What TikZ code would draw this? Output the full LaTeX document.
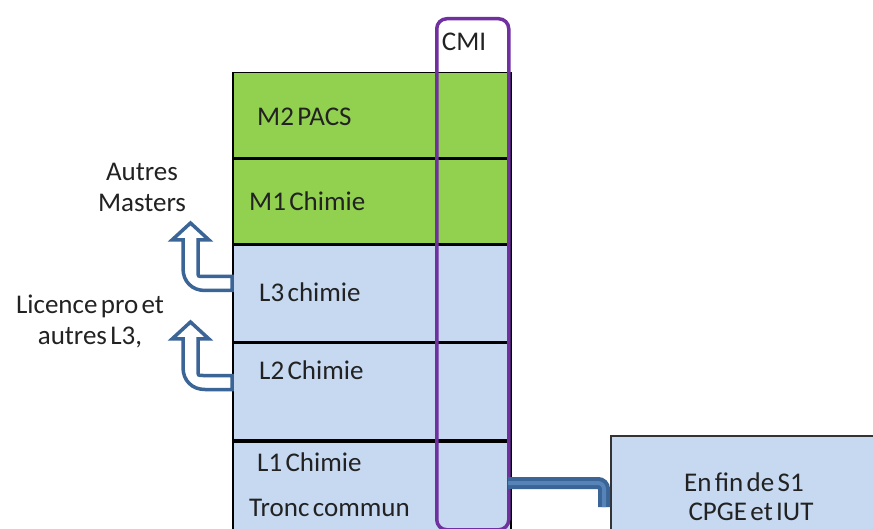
\documentclass[tikz,border=0pt]{standalone}
\usepackage{fontspec}
\setmainfont{Carlito}[WordSpace=0.55]

\definecolor{pacsgreen}{HTML}{92D050}
\definecolor{rowblue}{HTML}{C6D9F1}
\definecolor{cmipurple}{HTML}{7030A0}
\definecolor{arrowblue}{HTML}{3B6596}
\definecolor{linkblue}{HTML}{5683B8}
\definecolor{inktext}{HTML}{222222}

\tikzset{
  row/.style={draw=black, line width=1.5pt, anchor=north west, minimum width=278pt, inner sep=0pt},
  lbl/.style={anchor=west, inner sep=0pt, text=inktext, font=\fontsize{27}{30}\selectfont},
  side/.style={align=center, inner sep=0pt, text=inktext, font=\fontsize{27}{31}\selectfont},
  uturn/.style={draw=arrowblue, line width=3.5pt, fill=white, line join=miter},
  link/.style={draw=arrowblue, double=linkblue, double distance=4pt, line width=4pt, rounded corners=6pt},
}

\begin{document}
\begin{tikzpicture}[x=1pt,y=-1pt]
  \clip (0,0) rectangle (873,529);
  \fill[white] (0,0) rectangle (873,529);

  % rows of the stack
  \node[row, fill=pacsgreen, minimum height=85pt] (m2) at (232,72) {};
  \node[row, fill=pacsgreen, minimum height=85pt] (m1) at (m2.south west) {};
  \node[row, fill=rowblue, minimum height=96pt] (l3) at (m1.south west) {};
  \node[row, fill=rowblue, minimum height=97pt] (l2) at (l3.south west) {};
  \node[row, fill=rowblue, minimum height=110pt] (l1) at (l2.south west) {};
  \draw[line width=4pt] (l1.north west) -- (l1.north east);

  \node[lbl] (m2txt) at (257,117) {M2 PACS};
  \node[lbl] (m1txt) at (249,201) {M1 Chimie};
  \node[lbl] (l3txt) at (259,292) {L3 chimie};
  \node[lbl] (l2txt) at (259,370) {L2 Chimie};
  \node[lbl] (l1txt) at (257,462) {L1 Chimie};
  \node[lbl] (tronc) at (249,508) {Tronc commun};

  % CMI column
  \node[draw=cmipurple, line width=3.5pt, rounded corners=10pt, anchor=north west,
        minimum width=72pt, minimum height=511pt] (cmi) at (435,17) {};
  \node[lbl, anchor=center] (cmitxt) at (464,42) {CMI};

  % exits on the left
  \node[side] (masters) at (142,187) {Autres\\Masters};
  \node[side] (licence) at (90,321) {Licence pro et\\autres L3,};
  \foreach \dy in {0,99} {
    \draw[uturn, shift={(0,\dy)}] (232,276.5) -- (203,276.5)
      .. controls (198,276.5) .. (198,271.5) -- (198,240) -- (209,240)
      -- (190.5,223) -- (172,240) -- (183,240) -- (183,268.5)
      .. controls (183,281.5) and (192,290.5) .. (205,290.5) -- (232,290.5) -- cycle;
  }

  % entry box on the right
  \node[draw=black!80, line width=1.5pt, fill=rowblue, anchor=north west,
        minimum width=280pt, minimum height=110pt] (cpge) at (610,435) {};
  \node[lbl, anchor=center] (fins1) at (744,482) {En fin de S1};
  \node[lbl, anchor=center] (iut) at (751,512) {CPGE et IUT};

  \coordinate (linkstart) at (508,483);
  \coordinate (linkend) at (604,507);
  \draw[link] (linkstart) -| (linkend);
\end{tikzpicture}
\end{document}
